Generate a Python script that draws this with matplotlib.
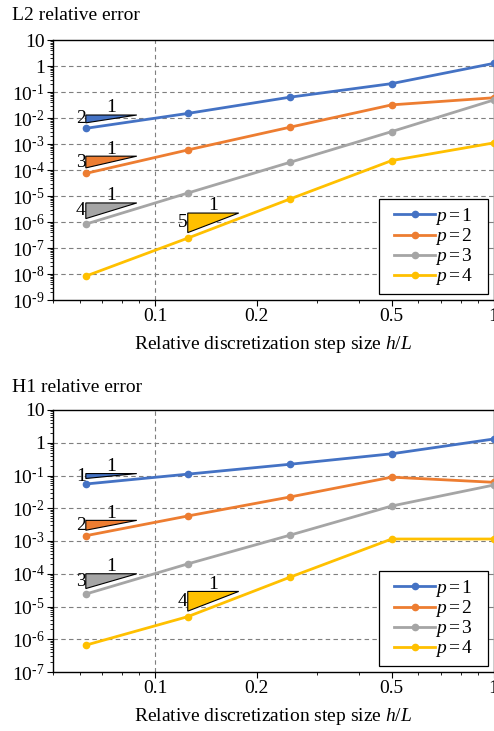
import numpy as np
import matplotlib
matplotlib.use('Agg')
import matplotlib.pyplot as plt
from matplotlib.ticker import LogLocator, FixedLocator, FixedFormatter, NullFormatter
from matplotlib.patches import Polygon
from matplotlib.legend_handler import HandlerLine2D

plt.rcParams['font.family'] = ['Liberation Serif', 'DejaVu Serif']
plt.rcParams['mathtext.fontset'] = 'custom'
plt.rcParams['mathtext.rm'] = 'Liberation Serif'
plt.rcParams['mathtext.it'] = 'Liberation Serif:italic'
plt.rcParams['mathtext.bf'] = 'Liberation Serif:bold'

# ---------------- data ----------------
h = [1/16, 1/8, 1/4, 1/2, 1.0]
labels = [r'$p\,$=$\,$1', r'$p\,$=$\,$2', r'$p\,$=$\,$3', r'$p\,$=$\,$4']
colors = ['#4472C4', '#ED7D31', '#A5A5A5', '#FFC000']

l2_p1 = [4.0e-3, 1.5e-2, 6.3e-2, 2.1e-1, 1.26]
l2_p2 = [7.4e-5, 5.9e-4, 4.4e-3, 3.2e-2, 6.0e-2]
l2_p3 = [8.3e-7, 1.3e-5, 1.96e-4, 3.0e-3, 4.9e-2]
l2_p4 = [8.3e-9, 2.4e-7, 7.6e-6, 2.3e-4, 1.1e-3]

h1_p1 = [5.5e-2, 1.1e-1, 2.2e-1, 4.6e-1, 1.3]
h1_p2 = [1.45e-3, 5.8e-3, 2.2e-2, 8.9e-2, 6.2e-2]
h1_p3 = [2.4e-5, 2.0e-4, 1.5e-3, 1.17e-2, 5.1e-2]
h1_p4 = [6.6e-7, 4.9e-6, 7.8e-5, 1.15e-3, 1.15e-3]

l2_rates = [2, 3, 4, 5]
l2_anchor = [0, 0, 0, 1]
h1_rates = [1, 2, 3, 4]
h1_anchor = [0, 0, 0, 1]

l2_yexp = list(range(-9, 2))
h1_yexp = list(range(-7, 2))
xtick_vals = [0.1, 0.2, 0.5, 1]
xtick_labels = ['0.1', '0.2', '0.5', '1']

FS = 14
EXTRA = 8  # extra right-hand padding inside legend frame, pixels

# ---------------- figure ----------------
W, H = 494, 731
fig = plt.figure(figsize=(W / 100, H / 100), dpi=100)


def ylab(k):
    if k == 1:
        return '10'
    if k == 0:
        return '1'
    return r'$10^{\text{-}%d}$' % (-k)


def make_panel(rect, series, yexp, rates, anchors, title, title_y):
    ax = fig.add_axes(rect)
    ax.set_xscale('log')
    ax.set_yscale('log')
    ax.set_xlim(0.05, 1.0)
    ax.set_ylim(10.0 ** yexp[0], 10.0 ** yexp[-1])
    lines = []
    for s, c, lab in zip(series, colors, labels):
        ln, = ax.plot(h, s, '-o', color=c, lw=2.0, ms=4.5, label=lab, zorder=3,
                      clip_on=False)
        lines.append(ln)
    # ticks
    ax.yaxis.set_major_locator(FixedLocator([10.0 ** k for k in yexp]))
    ax.yaxis.set_major_formatter(FixedFormatter([ylab(k) for k in yexp]))
    ax.yaxis.set_minor_locator(LogLocator(base=10, subs=np.arange(2, 10), numticks=100))
    ax.yaxis.set_minor_formatter(NullFormatter())
    ax.xaxis.set_major_locator(FixedLocator(xtick_vals))
    ax.xaxis.set_major_formatter(FixedFormatter(xtick_labels))
    ax.xaxis.set_minor_locator(LogLocator(base=10, subs=np.arange(2, 10), numticks=100))
    ax.xaxis.set_minor_formatter(NullFormatter())
    ax.tick_params(which='major', direction='out', length=4, width=0.8,
                   labelsize=FS, pad=2)
    ax.tick_params(which='minor', direction='out', length=2.5, width=0.6)
    for sp in ax.spines.values():
        sp.set_linewidth(1.0)
    # grid: horizontal at decades, vertical at 0.1
    for k in yexp[1:-1]:
        ax.axhline(10.0 ** k, color='#7f7f7f', lw=0.8, ls=(0, (4, 3)), zorder=1)
    ax.axvline(0.1, color='#7f7f7f', lw=0.8, ls=(0, (4, 3)), zorder=1)
    ax.set_xlabel(r'Relative discretization step size $h/L$', fontsize=FS, labelpad=6)
    fig.text(12 / W, title_y, title, fontsize=FS, va='baseline', ha='left')
    hm = {ln: HandlerLine2D(xpad=0.42) for ln in lines}
    ax_w_px = rect[2] * W
    leg = ax.legend(handles=lines, loc='lower right', fontsize=FS, frameon=True,
                    fancybox=False, edgecolor='black', framealpha=1,
                    bbox_to_anchor=(1 - EXTRA / ax_w_px, 0),
                    borderaxespad=0.3, handlelength=2.5, handletextpad=0.0,
                    labelspacing=-0.05, borderpad=0.35, handler_map=hm)
    leg.get_frame().set_linewidth(0.9)
    leg.set_zorder(5)
    patch = leg.legendPatch
    orig_set_bounds = patch.set_bounds

    def widened(*args, _orig=orig_set_bounds):
        if len(args) == 1:
            l, b, w, hh = args[0]
        else:
            l, b, w, hh = args
        _orig(l, b, w + EXTRA, hh)
    patch.set_bounds = widened

    fig.canvas.draw()
    # slope triangles
    inv = ax.transData.inverted()
    for s, c, r, i in zip(series, colors, rates, anchors):
        x0 = h[i]
        x1 = x0 * np.sqrt(2)
        px, py = ax.transData.transform((x0, s[i]))
        _, yb = inv.transform((px, py + 5.5))
        yt = yb * (x1 / x0) ** r
        tri = Polygon([(x0, yt), (x1, yt), (x0, yb)], closed=True,
                      facecolor=c, edgecolor='black', lw=0.8, zorder=4)
        ax.add_patch(tri)
        ax.annotate(str(r), xy=(x0, np.sqrt(yt * yb)), xytext=(0, 0),
                    textcoords='offset points', ha='right', va='center', fontsize=FS)
        ax.annotate('1', xy=(np.sqrt(x0 * x1), yt), xytext=(0, -1),
                    textcoords='offset points', ha='center', va='bottom', fontsize=FS)
    return ax, leg


left = 53 / W
right = 493.6 / W
ax1, leg1 = make_panel([left, 1 - 300 / H, right - left, 260 / H],
                       [l2_p1, l2_p2, l2_p3, l2_p4], l2_yexp, l2_rates, l2_anchor,
                       'L2 relative error', 1 - 20 / H)
ax2, leg2 = make_panel([left, 1 - 672 / H, right - left, 262 / H],
                       [h1_p1, h1_p2, h1_p3, h1_p4], h1_yexp, h1_rates, h1_anchor,
                       'H1 relative error', 1 - 392 / H)

fig.savefig('out.png', dpi=100)
